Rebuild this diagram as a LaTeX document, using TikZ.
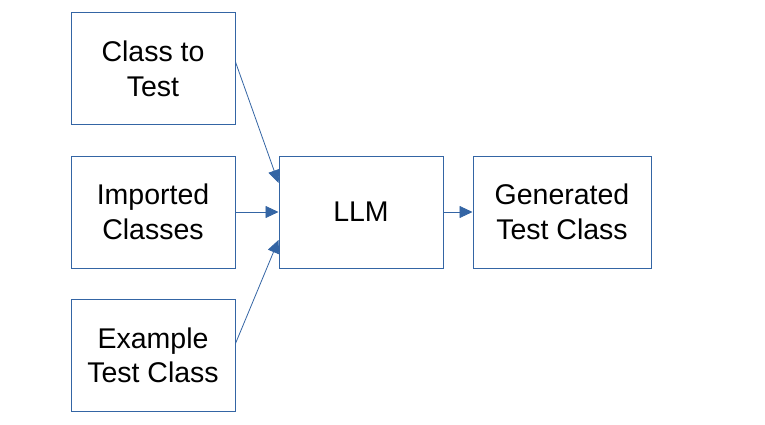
\documentclass[tikz,border=0pt]{standalone}
\usepackage{fontspec}
\setmainfont{Liberation Sans}
\usetikzlibrary{arrows.meta}
\definecolor{edge}{HTML}{3465A4}
\begin{document}
\begin{tikzpicture}[x=1pt,y=-1pt,
  box/.style={draw=edge,line width=1pt,minimum width=164pt,minimum height=112pt,inner sep=0pt,align=center,font=\fontsize{28.5}{34.5}\selectfont,text=black},
  conn/.style={draw=edge,line width=0.8pt,-{Triangle[length=13pt,width=12pt]}}]
\useasboundingbox (0,0) rectangle (765,425);
\node[box] (c1) at (153,69) {Class to\\Test};
\node[box] (c2) at (153,212) {Imported\\Classes};
\node[box] (c3) at (153,355.5) {Example\\Test Class};
\node[box] (llm) at (361,212) {LLM};
\node[box,minimum width=178pt] (gen) at (562,212) {Generated\\Test Class};
\draw[conn] ([yshift=7pt]c1.east) -- ([yshift=29pt]llm.west);
\draw[conn] (c2.east) -- (llm.west);
\draw[conn] ([yshift=12pt]c3.east) -- ([yshift=-28pt]llm.west);
\draw[conn] (llm.east) -- (gen.west);
\end{tikzpicture}
\end{document}
